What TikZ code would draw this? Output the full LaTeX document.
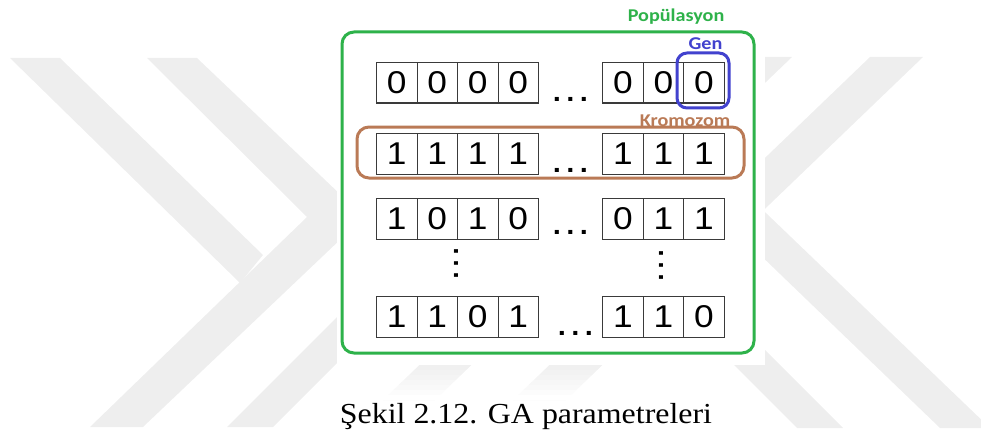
\documentclass[tikz,border=0pt]{standalone}
\usepackage{fontspec}
\setmainfont{Liberation Serif}
\newfontfamily\cellfont{Liberation Sans}
\newfontfamily\labelfont{Carlito}

\definecolor{wm}{RGB}{238,238,238}
\definecolor{popgreen}{RGB}{46,178,74}
\definecolor{genblue}{RGB}{66,66,206}
\definecolor{chrombrown}{RGB}{186,122,86}
\definecolor{cellline}{RGB}{58,58,58}

% slightly widened lettering
\newcommand\stretchx[1]{\scalebox{1.12}[1]{#1}}

\begin{document}
\begin{tikzpicture}[x=1pt,y=-1pt,
  gene/.style={draw=cellline,line width=1.1pt,minimum width=40.5pt,minimum height=40.5pt,
    inner sep=0pt,anchor=north west,font=\cellfont\fontsize{31.5}{31.5}\selectfont},
  frame/.style={line width=3pt,rounded corners=12pt,minimum width=#1},
  tag/.style={font=\labelfont\bfseries\fontsize{18}{18}\selectfont,anchor=base,inner sep=0pt},
  hdots/.style={font=\cellfont\fontsize{38}{38}\selectfont,anchor=base,inner sep=0pt},
  vdots/.style={font=\cellfont\fontsize{38}{38}\selectfont,rotate=90,inner sep=0pt}
]
\useasboundingbox (0,0) rectangle (981,433);

% ---- background watermark bands ----
\fill[wm] (10,58) -- (60,58) -- (263,255) -- (240,283) -- cycle;
\fill[wm] (147,58) -- (197,58) -- (364,217) -- (143,427) -- (90,427) -- (307,217) -- cycle;
\fill[wm] (227,427) -- (273,427) -- (400,300) -- (354,300) -- cycle;
\fill[wm] (740,57) -- (792,57) -- (435,400) -- (383,400) -- cycle;
\fill[wm] (870,57) -- (923,57) -- (566,400) -- (513,400) -- cycle;
\fill[wm] (742,190) -- (990,428) -- (940,428) -- (700,197) -- cycle;
\fill[wm] (797,428) -- (843,428) -- (620,205) -- (574,205) -- cycle;

% white panel of the figure
\fill[white] (337,0) rectangle (765,365);
% bands fading out above the caption
\foreach \yy/\op in {365/0.12,370/0.26,375/0.4,380/0.55,385/0.7,390/0.85,395/1}{
  \fill[white,opacity=\op] (370,\yy) rectangle (640,\yy+5.2);
}

% ---- chromosomes: four rows of genes ----
\foreach \row/\top/\a/\b/\c/\d/\e/\f/\g in {
    1/62/0/0/0/0/0/0/0,
    2/133/1/1/1/1/1/1/1,
    3/198/1/0/1/0/0/1/1,
    4/296/1/1/0/1/1/1/0}{
  \node[gene] (g\row-1) at (376,\top)   {\stretchx{\a}};
  \node[gene] (g\row-2) at (416.5,\top) {\stretchx{\b}};
  \node[gene] (g\row-3) at (457,\top)   {\stretchx{\c}};
  \node[gene] (g\row-4) at (497.5,\top) {\stretchx{\d}};
  \node[gene] (g\row-5) at (602,\top)   {\stretchx{\e}};
  \node[gene] (g\row-6) at (642.5,\top) {\stretchx{\f}};
  \node[gene] (g\row-7) at (683,\top)   {\stretchx{\g}};
}

% horizontal ellipses between the gene groups
\node[hdots] (dots1) at (571,102) {\stretchx{…}};
\node[hdots] (dots2) at (571,172) {\stretchx{…}};
\node[hdots] (dots3) at (571,234) {\stretchx{…}};
\node[hdots] (dots4) at (576,335) {\stretchx{…}};

% vertical ellipses between rows 3 and 4
\node[vdots] (vdotsL) at (456,263) {…};
\node[vdots] (vdotsR) at (661,265) {…};

% ---- frames ----
\node[frame=412pt,draw=popgreen,minimum height=321pt] (population) at (548,192.5) {};
\node[frame=387pt,draw=chrombrown,minimum height=51pt] (chromosome) at (550.5,152.5) {};
\node[frame=52pt,draw=genblue,rounded corners=10pt,minimum height=55pt] (gene) at (703,80.5) {};

% ---- labels ----
\node[tag,text=popgreen] (poplabel) at (676,22) {\stretchx{Popülasyon}};
\node[tag,text=genblue] (genlabel) at (705.5,50) {\stretchx{Gen}};
\node[tag,text=chrombrown] (chromlabel) at (685,126) {\stretchx{Kromozom}};

% ---- caption ----
\node[anchor=base,inner sep=0pt,font=\fontsize{29}{29}\selectfont] (caption) at (526,423)
  {\scalebox{1.1}[1]{Şekil 2.12. GA parametreleri}};
\end{tikzpicture}
\end{document}
